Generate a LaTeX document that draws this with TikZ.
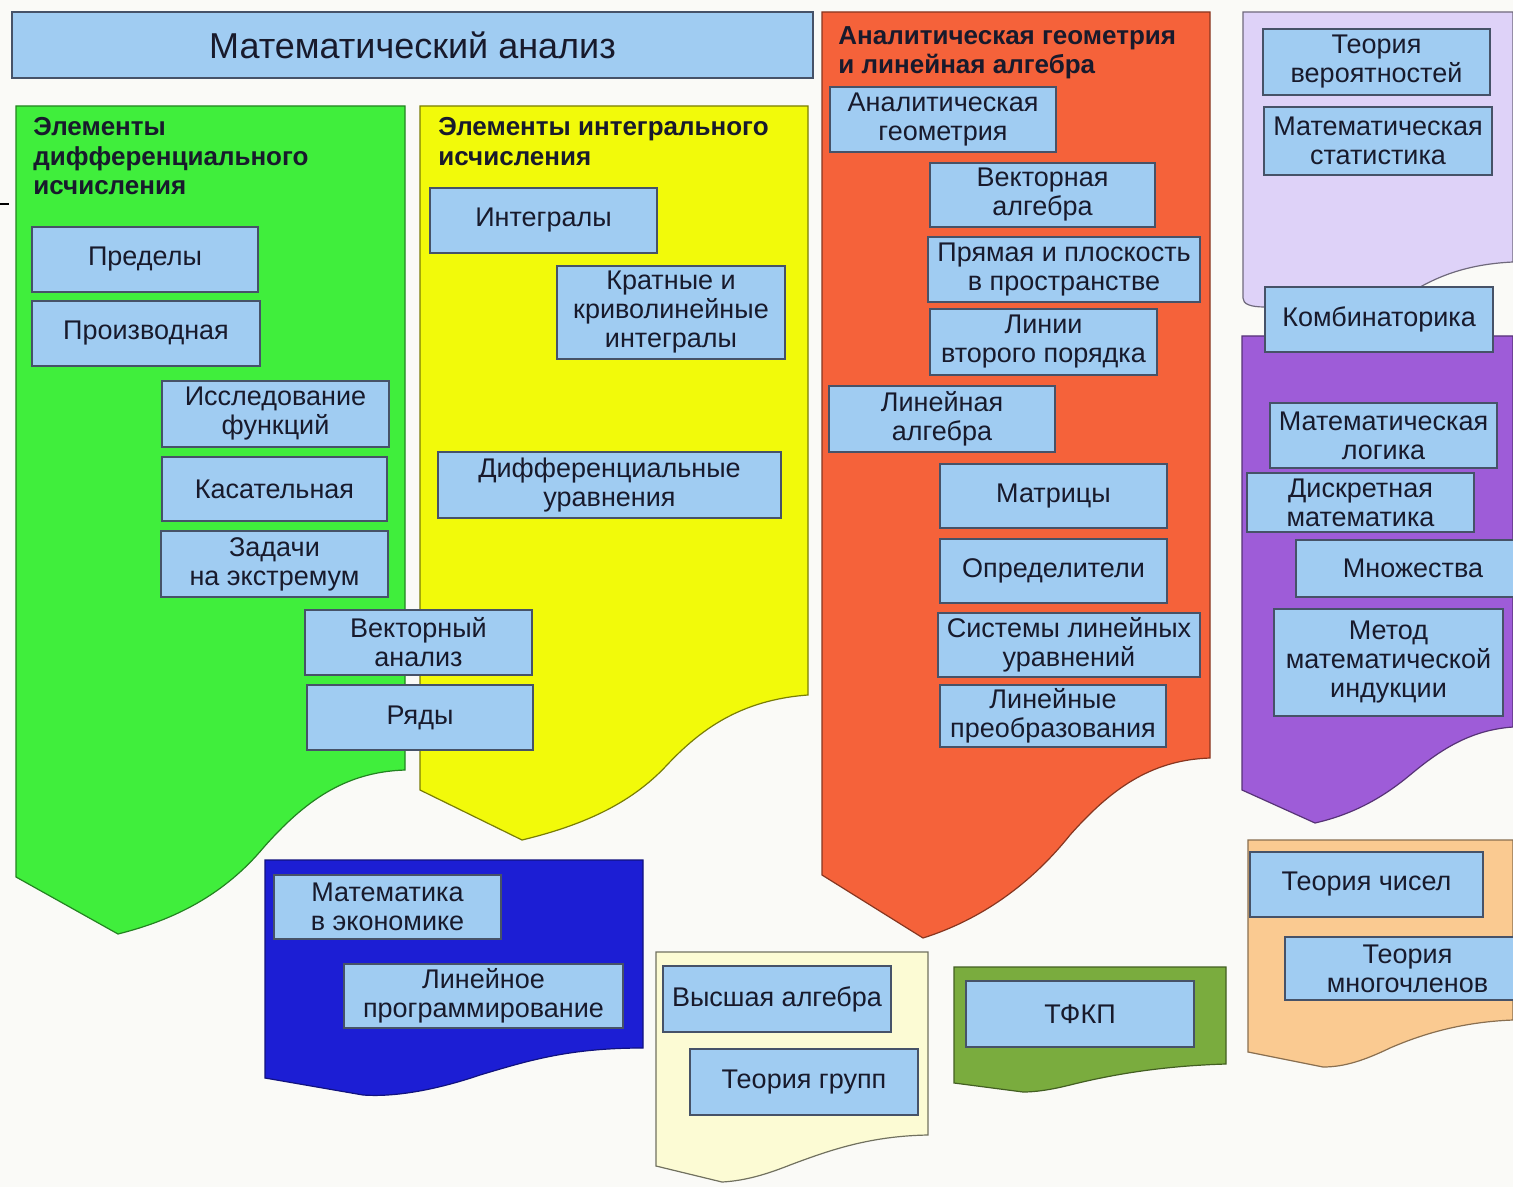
\documentclass[tikz,border=0pt]{standalone}
\usepackage{fontspec}
\setmainfont{Liberation Sans}

\definecolor{paper}{RGB}{250,250,247}
\definecolor{boxblue}{RGB}{160,204,242}
\definecolor{boxline}{RGB}{70,82,104}
\definecolor{textdark}{RGB}{24,26,44}
\definecolor{diffgreen}{RGB}{64,238,60}
\definecolor{integyellow}{RGB}{242,250,10}
\definecolor{geomorange}{RGB}{245,98,58}
\definecolor{problilac}{RGB}{222,210,248}
\definecolor{discpurple}{RGB}{158,92,216}
\definecolor{numpeach}{RGB}{250,202,145}
\definecolor{econblue}{RGB}{28,30,212}
\definecolor{algcream}{RGB}{252,251,212}
\definecolor{tfkpolive}{RGB}{122,172,62}

\tikzset{
	topic/.style={draw=boxline, fill=boxblue, line width=0.7pt, inner sep=0pt, align=center, text=textdark, font=\fontsize{13.5}{14.5}\selectfont},
	panel/.style={line width=0.6pt},
	heading/.style={anchor=north west, inner sep=0pt, align=left, text=textdark, font=\bfseries\fontsize{13}{14.75}\selectfont},
}
% box given by its two corners, in pixels of the layout
\newcommand{\topicbox}[6]{\node[topic, minimum width={0.5pt*(#4-#2)}, minimum height={0.5pt*(#5-#3)}] (#1) at ({(#2+#4)/2},{(#3+#5)/2}) {#6};}

\begin{document}
\begin{tikzpicture}[x=0.5pt, y=-0.5pt]
		\fill[paper] (0,0) rectangle (1513,1187);
		\useasboundingbox (0,0) rectangle (1513,1187);
		\draw[line width=0.6pt] (0,204) -- (9,204);
		% panels
		\filldraw[panel, fill=diffgreen, draw=diffgreen!55!black] (16,106) -- (405,106) -- (405,770) .. controls (344,772) and (304,802) .. (264,847) .. controls (224,895) and (174,920) .. (118,934) -- (16,877) -- cycle;
		\filldraw[panel, fill=integyellow, draw=integyellow!50!black] (420,106) -- (808,106) -- (808,695) .. controls (740,700) and (700,730) .. (667,765) .. controls (630,805) and (580,826) .. (522,840) -- (420,790) -- cycle;
		\filldraw[panel, fill=geomorange, draw=geomorange!55!black] (822,12) -- (1210,12) -- (1210,758) .. controls (1150,760) and (1110,790) .. (1070,835) .. controls (1030,885) and (980,920) .. (923,938) -- (822,875) -- cycle;
		\filldraw[panel, fill=problilac, draw=problilac!50!black] (1243,12) -- (1513,12) -- (1513,262) .. controls (1470,264) and (1440,275) .. (1415,290) -- (1265,307) .. controls (1250,307) and (1243,304) .. (1243,298) -- cycle;
		\filldraw[panel, fill=discpurple, draw=discpurple!55!black] (1242,336) -- (1513,336) -- (1513,727) .. controls (1470,730) and (1440,750) .. (1410,775) .. controls (1380,800) and (1350,815) .. (1315,823) -- (1242,790) -- cycle;
		\filldraw[panel, fill=numpeach, draw=numpeach!55!black] (1248,840) -- (1513,840) -- (1513,1020) .. controls (1460,1022) and (1420,1035) .. (1390,1048) .. controls (1365,1060) and (1345,1067) .. (1323,1067) -- (1248,1052) -- cycle;
		\filldraw[panel, fill=econblue, draw=econblue!60!black] (265,860) -- (643,860) -- (643,1048) .. controls (570,1048) and (530,1060) .. (480,1075) .. controls (430,1092) and (390,1097) .. (363,1095) -- (265,1078) -- cycle;
		\filldraw[panel, fill=algcream, draw=algcream!45!black] (656,952) -- (928,952) -- (928,1135) .. controls (870,1136) and (830,1150) .. (790,1165) .. controls (760,1177) and (740,1181) .. (722,1182) -- (656,1166) -- cycle;
		\filldraw[panel, fill=tfkpolive, draw=tfkpolive!55!black] (954,967) -- (1226,967) -- (1226,1064) .. controls (1160,1066) and (1110,1075) .. (1070,1085) .. controls (1050,1090) and (1035,1092) .. (1023,1092) -- (954,1083) -- cycle;
		% title and headings
		\node[topic, minimum width=400.5pt, minimum height=33pt, font=\fontsize{18}{20}\selectfont] (analysis) at (412.5,45) {Математический анализ};
		\node[heading] (diffhead) at (33,117) {Элементы\\дифференциального\\исчисления};
		\node[heading] (integhead) at (438,117) {Элементы интегрального\\исчисления};
		\node[heading] (geomhead) at (838,26) {Аналитическая геометрия\\и линейная алгебра};
		% differential calculus
		\topicbox{limits}{32}{227}{258}{292}{Пределы}
		\topicbox{deriv}{32}{301}{260}{366}{Производная}
		\topicbox{study}{162}{381}{389}{447}{Исследование\\функций}
		\topicbox{tangent}{162}{457}{387}{521}{Касательная}
		\topicbox{extrem}{161}{531}{388}{597}{Задачи\\на экстремум}
		\topicbox{vecan}{305}{610}{532}{675}{Векторный\\анализ}
		\topicbox{series}{307}{685}{533}{750}{Ряды}
		% integral calculus
		\topicbox{integ}{430}{188}{657}{253}{Интегралы}
		\topicbox{multint}{557}{266}{785}{359}{Кратные и\\криволинейные\\интегралы}
		\topicbox{diffeq}{438}{452}{781}{518}{Дифференциальные\\уравнения}
		% geometry and linear algebra
		\topicbox{angeom}{830}{87}{1056}{152}{Аналитическая\\геометрия}
		\topicbox{vecalg}{930}{163}{1155}{227}{Векторная\\алгебра}
		\topicbox{lineplane}{928}{237}{1200}{302}{Прямая и плоскость\\в пространстве}
		\topicbox{conics}{930}{309}{1157}{375}{Линии\\второго порядка}
		\topicbox{linalg}{829}{386}{1055}{452}{Линейная\\алгебра}
		\topicbox{matrices}{940}{464}{1167}{528}{Матрицы}
		\topicbox{dets}{940}{539}{1167}{603}{Определители}
		\topicbox{linsys}{938}{613}{1200}{677}{Системы линейных\\уравнений}
		\topicbox{lintrans}{940}{685}{1166}{747}{Линейные\\преобразования}
		% probability
		\topicbox{prob}{1263}{29}{1490}{95}{Теория\\вероятностей}
		\topicbox{stat}{1264}{107}{1492}{175}{Математическая\\статистика}
		\topicbox{comb}{1265}{287}{1493}{352}{Комбинаторика}
		% discrete mathematics
		\topicbox{logic}{1270}{403}{1497}{468}{Математическая\\логика}
		\topicbox{discrete}{1247}{473}{1474}{532}{Дискретная\\математика}
		\topicbox{sets}{1296}{540}{1530}{597}{Множества}
		\topicbox{induct}{1274}{609}{1503}{716}{Метод\\математической\\индукции}
		% number theory
		\topicbox{numth}{1250}{852}{1483}{917}{Теория чисел}
		\topicbox{polys}{1285}{937}{1530}{1000}{Теория\\многочленов}
		% economics
		\topicbox{econ}{274}{875}{501}{939}{Математика\\в экономике}
		\topicbox{linprog}{344}{964}{623}{1028}{Линейное\\программирование}
		% algebra
		\topicbox{highalg}{663}{966}{891}{1032}{Высшая алгебра}
		\topicbox{groups}{690}{1049}{918}{1115}{Теория групп}
		% complex analysis
		\topicbox{tfkp}{966}{981}{1194}{1047}{ТФКП}
	\end{tikzpicture}
\end{document}
